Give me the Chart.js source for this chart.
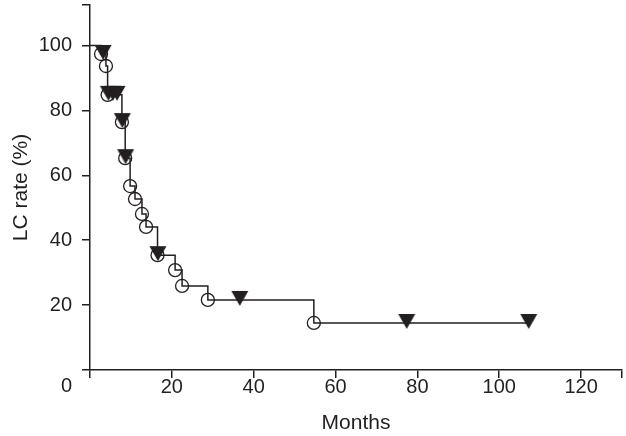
<!DOCTYPE html>
<html>
<head>
<meta charset="utf-8">
<script src="https://cdn.jsdelivr.net/npm/chart.js@4.4.1/dist/chart.umd.min.js"></script>
<style>
  html, body { margin: 0; padding: 0; background: #fff; }
  #wrap { width: 626px; height: 436px; }
</style>
</head>
<body>
<div id="wrap"><canvas id="chartLC" width="626" height="436"></canvas></div>
<script>
// ── Data ──
// event times (open circles) and the survival level reached at each
const eventMonths = [2.7, 3.9, 4.3, 7.8, 8.6, 9.8, 11.0, 12.7, 13.7, 16.5, 20.8, 22.5, 28.8, 54.7];
const eventRates  = [97.4, 93.7, 84.8, 76.4, 65.3, 56.7, 52.7, 48.1, 44.1, 35.4, 30.8, 25.9, 21.6, 14.5];
// censored times (filled triangles) and curve level there
const censorMonths = [3.2, 4.5, 5.6, 6.6, 7.9, 8.7, 16.6, 36.6, 77.4, 107.2];
const censorRates  = [97.4, 84.8, 84.8, 84.8, 76.4, 65.3, 35.4, 21.6, 14.5, 14.5];
const lastFollowUp = 107.2;

const xTicks = [0, 20, 40, 60, 80, 100, 120];
const yTicks = [0, 20, 40, 60, 80, 100];

// step curve: start at 100%, drop at each event, run out to last follow-up
const curveX = [0].concat(eventMonths, [lastFollowUp]);
const curveY = [100].concat(eventRates, [eventRates[eventRates.length - 1]]);

const toPts = (xs, ys) => xs.map((x, i) => ({ x: x, y: ys[i] }));

const FONT = 'Liberation Sans, Arial, sans-serif';
const INK = '#231f20';
const X_MAX = 130, Y_MAX = 112.5;

// ── Censor mark: down-pointing triangle sitting mostly above the line ──
function makeCensorMark() {
  const c = document.createElement('canvas');
  c.width = 20; c.height = 30;
  const g = c.getContext('2d');
  g.fillStyle = INK;
  g.beginPath();
  g.moveTo(1.5, 6);
  g.lineTo(18.5, 6);
  g.lineTo(10, 21);
  g.closePath();
  g.fill();
  return c;
}
const censorMark = makeCensorMark();

// shared "0" at the origin, as in the original
const originLabel = {
  id: 'originLabel',
  afterDraw(chart) {
    const { ctx, scales } = chart;
    const x0 = scales.x.getPixelForValue(0);
    const y0 = scales.y.getPixelForValue(0);
    ctx.save();
    ctx.fillStyle = INK;
    ctx.font = '20px ' + FONT;
    ctx.textAlign = 'right';
    ctx.textBaseline = 'middle';
    ctx.fillText('0', x0 - 18, y0 + 16);
    ctx.restore();
  }
};

new Chart(document.getElementById('chartLC'), {
  type: 'scatter',
  data: {
    datasets: [
      {
        label: 'KM',
        type: 'line',
        data: toPts(curveX, curveY),
        stepped: 'before',
        borderColor: INK,
        borderWidth: 1.5,
        pointRadius: 0,
        fill: false,
        order: 3
      },
      {
        label: 'Events',
        data: toPts(eventMonths, eventRates),
        pointStyle: 'circle',
        pointRadius: 6.5,
        pointBorderWidth: 1.3,
        pointBorderColor: INK,
        pointBackgroundColor: 'rgba(0,0,0,0)',
        order: 2
      },
      {
        label: 'Censored',
        data: toPts(censorMonths, censorRates),
        pointStyle: censorMark,
        pointRadius: 10,
        order: 1
      }
    ]
  },
  options: {
    responsive: false,
    animation: false,
    layout: { autoPadding: false, padding: { left: 0, right: 4, top: 5, bottom: 0 } },
    plugins: { legend: { display: false }, tooltip: { enabled: false } },
    scales: {
      x: {
        type: 'linear',
        min: 0, max: X_MAX,
        afterBuildTicks: s => { s.ticks = xTicks.concat([X_MAX]).map(v => ({ value: v })); },
        afterFit: s => { s.height = 66; s.paddingLeft = 0; s.paddingRight = 0; },
        border: { color: INK, width: 1.5 },
        grid: { display: true, drawOnChartArea: false, drawTicks: true, tickLength: 8, color: INK, lineWidth: 1.5 },
        ticks: {
          color: INK, font: { size: 20, family: FONT }, padding: -3, maxRotation: 0,
          callback: v => (v === 0 || v === X_MAX) ? '' : v
        },
        title: { display: true, text: 'Months', color: INK, font: { size: 21, family: FONT }, padding: { top: 4, bottom: 0 } }
      },
      y: {
        type: 'linear',
        min: 0, max: Y_MAX,
        afterBuildTicks: s => { s.ticks = yTicks.concat([Y_MAX]).map(v => ({ value: v })); },
        afterFit: s => { s.width = 90; s.paddingTop = 0; s.paddingBottom = 0; },
        border: { color: INK, width: 1.5 },
        grid: { display: true, drawOnChartArea: false, drawTicks: true, tickLength: 8, color: INK, lineWidth: 1.5 },
        ticks: {
          color: INK, font: { size: 20, family: FONT }, padding: 10,
          callback: v => (v === 0 || v === Y_MAX) ? '' : v
        },
        title: { display: true, text: 'LC rate (%)', color: INK, font: { size: 21, family: FONT }, padding: { top: 9, bottom: 0 } }
      }
    }
  },
  plugins: [originLabel]
});
</script>
</body>
</html>
